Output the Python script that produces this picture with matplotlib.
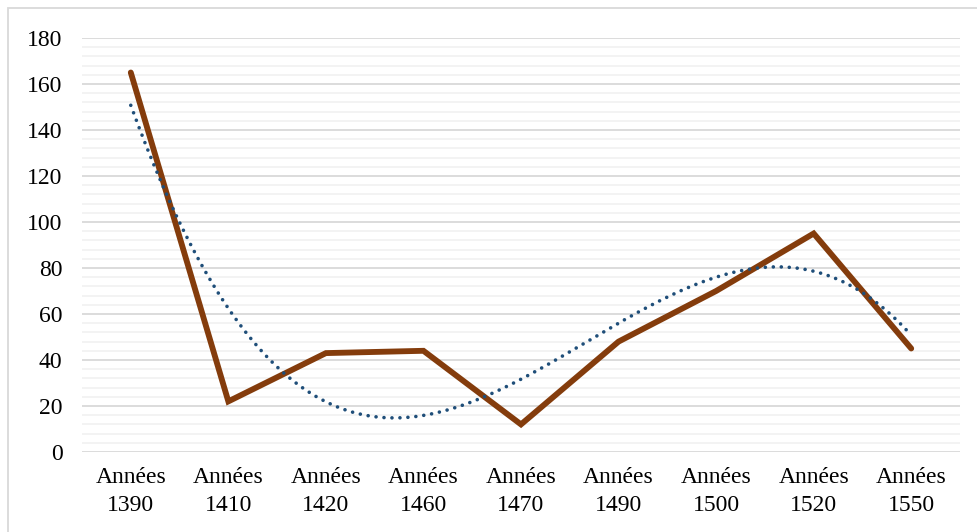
import numpy as np
import matplotlib.pyplot as plt
from matplotlib.patches import Rectangle

# data
decades = ["1390", "1410", "1420", "1460", "1470", "1490", "1500", "1520", "1550"]
counts = [165, 22, 43, 44, 12, 48, 70, 95, 45]

labels = [f"Années\n{d}" for d in decades]
x = np.arange(1, len(decades) + 1)

plt.rcParams['font.family'] = ['Liberation Serif', 'DejaVu Serif']

fig = plt.figure(figsize=(9.78, 5.32), dpi=100)
ax = fig.add_axes([82/978, 80/532, 878/978, 414/532])

# light frame around the chart
fig.patches.append(Rectangle((8/978, -0.1), 1.2, (524/532) + 0.1, transform=fig.transFigure,
                             fill=False, edgecolor='#D9D9D9', linewidth=1.3))

ax.set_xlim(0.5, len(decades) + 0.5)
ax.set_ylim(0, 180)
ax.set_yticks(np.arange(0, 181, 20))
ax.set_yticks(np.arange(0, 181, 4), minor=True)
ax.grid(axis='y', which='minor', color='#F2F2F2', linewidth=1.3)
ax.grid(axis='y', which='major', color='#D9D9D9', linewidth=1.3)
ax.set_axisbelow(True)
for s in ax.spines.values():
    s.set_visible(False)

ax.plot(x, counts, color='#843C0C', linewidth=4.2, solid_joinstyle='miter', solid_capstyle='round', zorder=3)

# polynomial trend line (like Excel's)
coef = np.polyfit(x, counts, 3)
xs = np.linspace(1, len(decades), 300)
ax.plot(xs, np.polyval(coef, xs), color='#1F4E79', linewidth=2.6, linestyle=(0, (0.01, 2.2)),
        dash_capstyle='round', zorder=4)

ax.set_xticks(x)
ax.set_xticklabels(labels, linespacing=1.4)
ax.tick_params(axis='both', which='both', length=0, labelsize=17, colors='black')
ax.tick_params(axis='y', pad=14)
ax.tick_params(axis='x', pad=11)

fig.savefig("out.png", dpi=100)
